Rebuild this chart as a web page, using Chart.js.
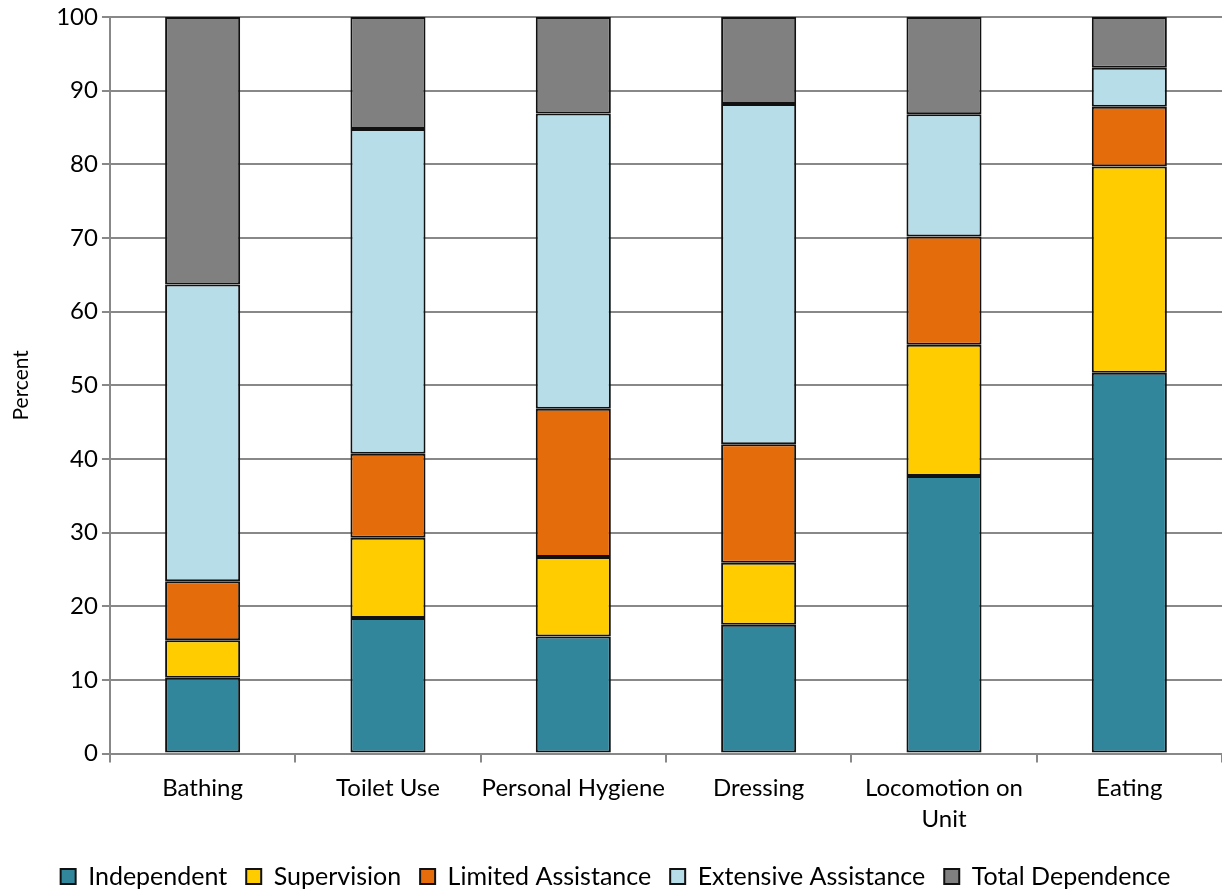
<!DOCTYPE html>
<html>
<head>
<meta charset="utf-8">
<script src="https://cdn.jsdelivr.net/npm/chart.js@4"></script>
<style>
    html, body { margin: 0; padding: 0; background: #fff; }
    #wrap { width: 1222px; height: 890px; }
</style>
</head>
<body>
<div id="wrap"><canvas id="adlChart" width="1222" height="890"></canvas></div>
<script>
var categories = ['Bathing', 'Toilet Use', 'Personal Hygiene', 'Dressing', ['Locomotion on', 'Unit'], 'Eating'];

var independent = [10.3, 18.4, 15.9, 17.5, 37.7, 51.7];
var supervision = [5.1, 10.9, 10.8, 8.4, 17.8, 28.0];
var limitedAssistance = [8.0, 11.4, 20.1, 16.1, 14.7, 8.1];
var extensiveAssistance = [40.3, 44.1, 40.1, 46.2, 16.6, 5.3];
var totalDependence = [36.3, 15.2, 13.1, 11.8, 13.2, 6.9];

var yTicks = [0, 10, 20, 30, 40, 50, 60, 70, 80, 90, 100];

var fontFamily = 'Lato, "Open Sans", sans-serif';

function makeSet(label, data, color){
    return {
        label: label,
        data: data,
        backgroundColor: color,
        borderColor: '#111',
        borderWidth: 2,
        borderSkipped: false,
        barPercentage: 0.405,
        categoryPercentage: 1.0
    };
}

document.addEventListener('DOMContentLoaded', function() {
    var ctx = document.getElementById('adlChart').getContext('2d');
    var myChart = new Chart(ctx, {
        type: 'bar',
        data: {
            labels: categories,
            datasets: [
                makeSet('Independent', independent, '#31869b'),
                makeSet('Supervision', supervision, '#ffcc00'),
                makeSet('Limited Assistance', limitedAssistance, '#e46c0a'),
                makeSet('Extensive Assistance', extensiveAssistance, '#b7dde8'),
                makeSet('Total Dependence', totalDependence, '#808080')
            ]
        },
        options: {
            responsive: false,
            animation: false,
            layout: {
                padding: { top: 17, right: 0, left: 9, bottom: -9 }
            },
            scales: {
                x: {
                    stacked: true,
                    offset: true,
                    grid: {
                        offset: true,
                        drawOnChartArea: false,
                        color: '#888',
                        lineWidth: 2,
                        tickLength: 9
                    },
                    border: { color: '#888', width: 2 },
                    ticks: {
                        color: '#000',
                        font: { family: fontFamily, size: 24, lineHeight: 1.3 },
                        padding: 10,
                        maxRotation: 0,
                        autoSkip: false
                    }
                },
                y: {
                    stacked: true,
                    min: 0,
                    max: 100,
                    afterBuildTicks: function(axis){
                        axis.ticks = yTicks.map(function(v){ return { value: v }; });
                    },
                    afterFit: function(axis){
                        axis.paddingTop = 0;
                        axis.paddingBottom = 0;
                    },
                    grid: {
                        color: '#888',
                        lineWidth: 2,
                        tickLength: 8
                    },
                    border: { color: '#888', width: 2 },
                    ticks: {
                        color: '#000',
                        font: { family: fontFamily, size: 24 },
                        padding: 4
                    },
                    title: {
                        display: true,
                        text: 'Percent',
                        color: '#000',
                        font: { family: fontFamily, size: 21 },
                        padding: { top: 0, bottom: 18 }
                    }
                }
            },
            plugins: {
                legend: {
                    position: 'bottom',
                    labels: {
                        color: '#000',
                        font: { family: fontFamily, size: 25 },
                        boxWidth: 15,
                        boxHeight: 15,
                        padding: 19
                    }
                },
                tooltip: { enabled: false }
            }
        }
    });
});
</script>
</body>
</html>
